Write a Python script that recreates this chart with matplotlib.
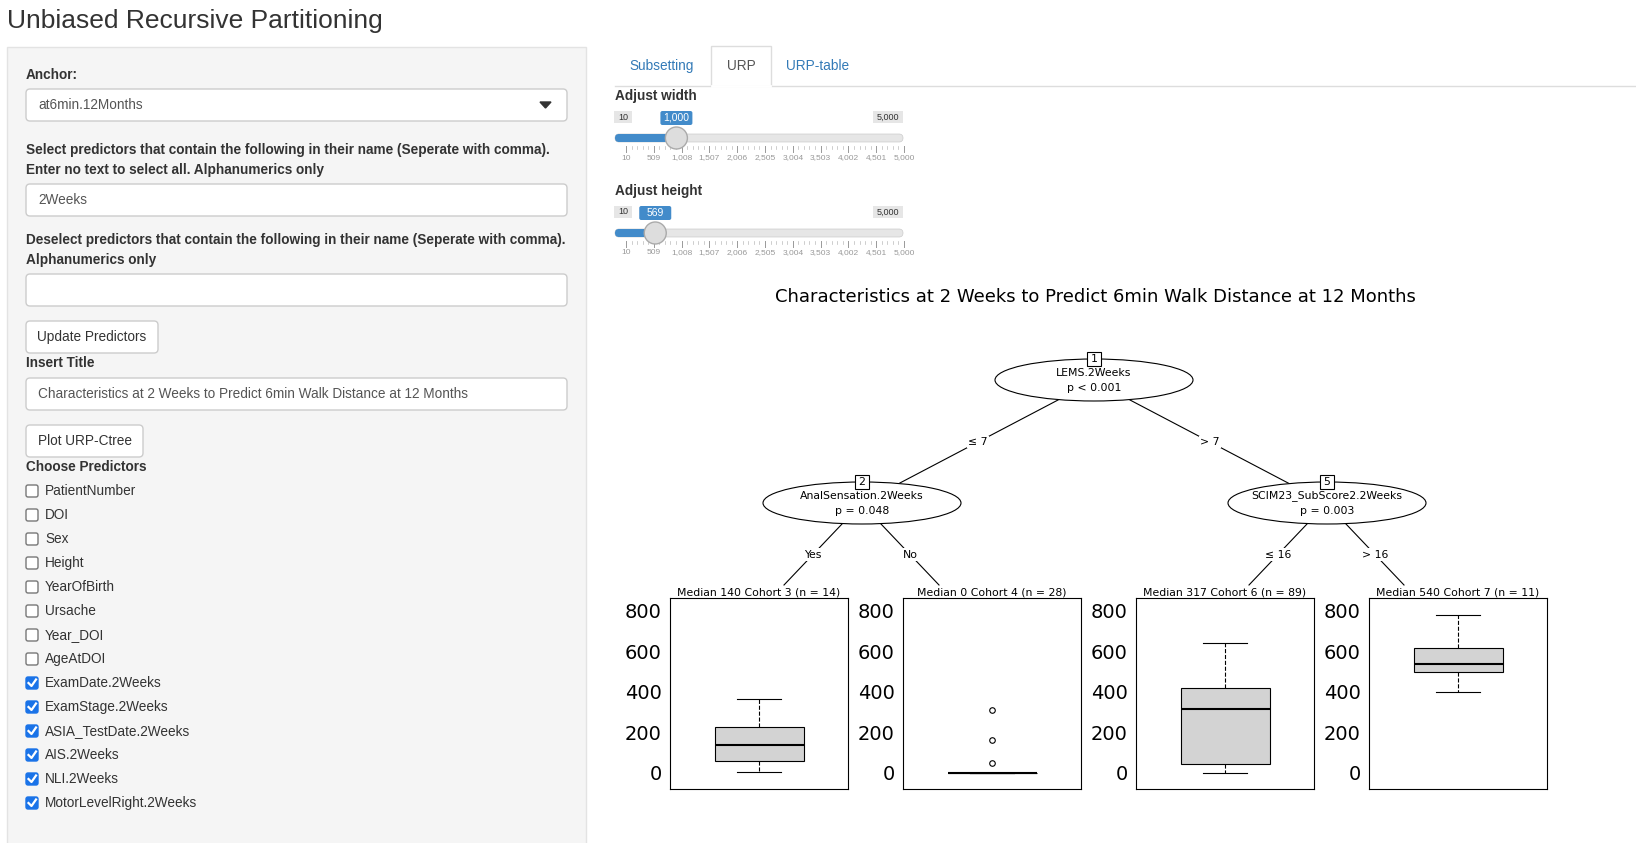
import matplotlib
matplotlib.use("Agg")
import matplotlib.pyplot as plt
from matplotlib.patches import Rectangle, Ellipse, FancyBboxPatch, Circle

W, H = 1636, 843
# ---- data ----
node_titles = ["Median 140 Cohort 3 (n = 14)", "Median 0 Cohort 4 (n = 28)",
               "Median 317 Cohort 6 (n = 89)", "Median 540 Cohort 7 (n = 11)"]
whislo = [5, 0, 0, 400]
q1 = [60, 0, 45, 500]
med = [140, 0, 315, 540]
q3 = [225, 0, 420, 615]
whishi = [365, 0, 640, 780]
fliers = [[], [50, 165, 310], [], []]
yticks = [0, 200, 400, 600, 800]
predictors = ["PatientNumber", "DOI", "Sex", "Height", "YearOfBirth", "Ursache", "Year_DOI",
              "AgeAtDOI", "ExamDate.2Weeks", "ExamStage.2Weeks", "ASIA_TestDate.2Weeks",
              "AIS.2Weeks", "NLI.2Weeks", "MotorLevelRight.2Weeks"]
checked = [False]*8 + [True]*6
slider_ticks = ["10", "509", "1,008", "1,507", "2,006", "2,505", "3,004", "3,503", "4,002", "4,501", "5,000"]

fig = plt.figure(figsize=(W/100, H/100), dpi=100)
ax = fig.add_axes([0, 0, 1, 1])
ax.set_xlim(0, W); ax.set_ylim(H, 0); ax.axis("off")
F = "Liberation Sans"
FS = 9.8
def T(x, y, s, size=11, **kw):
    kw.setdefault("va", "center"); kw.setdefault("family", F)
    ax.text(x, y, s, fontsize=size, **kw)

T(7, 21, "Unbiased Recursive Partitioning", 19, color="#333")
ax.add_patch(Rectangle((7, 47), 579, 800, fc="#f5f5f5", ec="#e3e3e3"))
T(26, 75, "Anchor:", FS, weight="bold", color="#333")
def inp(y, h=32, txt=""):
    ax.add_patch(FancyBboxPatch((26, y), 541, h, boxstyle="round,pad=0,rounding_size=4", fc="white", ec="#ccc"))
    if txt: T(38, y+h/2, txt, FS, color="#555")
inp(89, 32, "at6min.12Months")
ax.fill([540, 551, 545.5], [102, 102, 108], color="#333")
T(26, 150, "Select predictors that contain the following in their name (Seperate with comma).", FS, weight="bold", color="#333")
T(26, 170, "Enter no text to select all. Alphanumerics only", FS, weight="bold", color="#333")
inp(184, 32, "2Weeks")
T(26, 240, "Deselect predictors that contain the following in their name (Seperate with comma).", FS, weight="bold", color="#333")
T(26, 260, "Alphanumerics only", FS, weight="bold", color="#333")
inp(274, 32)
def btn(x, y, w, txt):
    ax.add_patch(FancyBboxPatch((x, y), w, 32, boxstyle="round,pad=0,rounding_size=4", fc="white", ec="#ccc"))
    T(x+w/2, y+16, txt, FS, ha="center", color="#333")
btn(26, 321, 132, "Update Predictors")
T(26, 363, "Insert Title", FS, weight="bold", color="#333")
inp(378, 32, "Characteristics at 2 Weeks to Predict 6min Walk Distance at 12 Months")
btn(26, 425, 117, "Plot URP-Ctree")
T(26, 467, "Choose Predictors", FS, weight="bold", color="#333")
for i, (p, c) in enumerate(zip(predictors, checked)):
    y = 491 + 24*i
    ax.add_patch(FancyBboxPatch((26, y-6), 12, 12, boxstyle="round,pad=0,rounding_size=2",
                                fc="#1a73e8" if c else "white", ec="#1a73e8" if c else "#777"))
    if c: ax.plot([28.5, 31.5, 36], [y, y+3, y-3.5], color="white", lw=1.6)
    T(45, y, p, FS, color="#333")

# tabs
ax.plot([615, W], [86, 86], color="#ddd", lw=1)
ax.add_patch(Rectangle((711, 46), 60, 40, fc="white", ec="#ddd"))
ax.plot([712, 770], [86, 86], color="white", lw=2)
T(662, 66, "Subsetting", FS, ha="center", color="#337ab7")
T(741, 66, "URP", FS, ha="center", color="#555")
T(818, 66, "URP-table", FS, ha="center", color="#337ab7")

def slider(y0, label, val, frac):
    T(615, y0, label, FS, weight="bold", color="#333")
    ty = y0+42
    x0, x1 = 620, 902
    ax.add_patch(FancyBboxPatch((615, ty-4), 288, 8, boxstyle="round,pad=0,rounding_size=4", fc="#e6e6e6", ec="#ccc", lw=0.5))
    xv = x0 + frac*(x1-x0)
    ax.add_patch(FancyBboxPatch((615, ty-4), xv-615, 8, boxstyle="round,pad=0,rounding_size=4", fc="#428bca", ec="none"))
    ax.add_patch(Circle((xv, ty), 11, fc="#ddd", ec="#aaa", zorder=5))
    for lab, x in (("10", 623), ("5,000", 888)):
        ax.add_patch(Rectangle((x-9 if lab == "10" else x-15, y0+15), 18 if lab == "10" else 30, 12, fc="#e6e6e6", ec="none"))
        T(x, y0+21, lab, 6.5, ha="center", color="#333")
    ax.add_patch(FancyBboxPatch((xv-16, y0+15), 32, 14, boxstyle="round,pad=0,rounding_size=2", fc="#428bca", ec="none", zorder=6))
    T(xv, y0+22, val, 7.5, ha="center", color="white", zorder=7)
    for i, s in enumerate(slider_ticks):
        x = 626 + i*(904-626)/10
        ax.plot([x, x], [ty+8, ty+14], color="#999", lw=0.7)
        if i < 10:
            for j in range(1, 5):
                xx = x + j*(904-626)/50
                ax.plot([xx, xx], [ty+8, ty+11], color="#bbb", lw=0.5)
        T(x, ty+20, s, 6, ha="center", color="#999")
slider(96, "Adjust width", "1,000", 0.2)
slider(191, "Adjust height", "569", 0.125)

# tree
T(1095, 297, "Characteristics at 2 Weeks to Predict 6min Walk Distance at 12 Months", 13, ha="center", family="DejaVu Sans")
TS = 7.8
def node(x, y, num, name, p):
    ax.add_patch(Ellipse((x, y), 198, 42, fc="white", ec="black", lw=0.8, zorder=3))
    ax.add_patch(Rectangle((x-7, y-28), 14, 14, fc="white", ec="black", lw=0.8, zorder=4))
    T(x, y-21, num, TS, ha="center", family="DejaVu Sans", zorder=5)
    T(x, y-7, name, TS, ha="center", family="DejaVu Sans", zorder=5)
    T(x, y+8, p, TS, ha="center", family="DejaVu Sans", zorder=5)
def edge(x0, y0, x1, y1, lab):
    ax.plot([x0, x1], [y0, y1], color="black", lw=0.8, zorder=1)
    T((x0+x1)/2, (y0+y1)/2, lab, TS, ha="center", family="DejaVu Sans",
      bbox=dict(fc="white", ec="none", pad=1), zorder=2)
edge(1058, 400, 898, 484, "≤ 7"); edge(1130, 400, 1290, 484, "> 7")
edge(842, 524, 784, 585, "Yes"); edge(881, 524, 939, 585, "No")
edge(1307, 524, 1249, 585, "≤ 16"); edge(1346, 524, 1404, 585, "> 16")
node(1094, 380, "1", "LEMS.2Weeks", "p < 0.001")
node(862, 503, "2", "AnalSensation.2Weeks", "p = 0.048")
node(1327, 503, "5", "SCIM23_SubScore2.2Weeks", "p = 0.003")

lefts = [670, 903, 1136, 1369]
for i in range(4):
    bx = fig.add_axes([lefts[i]/W, (H-789)/H, 178/W, 191/H])
    st = dict(med=med[i], q1=q1[i], q3=q3[i], whislo=whislo[i], whishi=whishi[i], fliers=fliers[i])
    bx.bxp([st], positions=[0], widths=0.5, patch_artist=True,
           boxprops=dict(facecolor="lightgray", edgecolor="black", lw=0.8),
           medianprops=dict(color="black", lw=1.5),
           whiskerprops=dict(ls="--", lw=0.8), capprops=dict(lw=0.8),
           flierprops=dict(marker="o", mfc="none", mec="black", ms=4, mew=0.8))
    bx.set_xlim(-0.5, 0.5); bx.set_ylim(-79, 864)
    bx.set_xticks([]); bx.set_yticks(yticks)
    bx.tick_params(axis="y", labelsize=14, length=0, pad=6)
    for lab in bx.get_yticklabels(): lab.set_family("DejaVu Sans")
    bx.set_title(node_titles[i], fontsize=TS, pad=2, family="DejaVu Sans")
    for s in bx.spines.values(): s.set_linewidth(0.8)

fig.savefig("out.png", dpi=100)
